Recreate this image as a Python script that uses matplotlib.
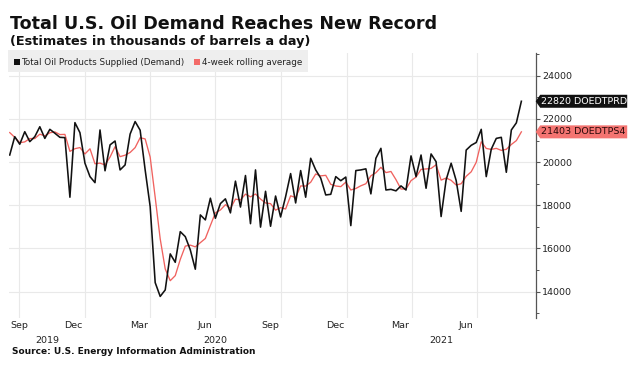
import matplotlib
matplotlib.use("Agg")
import matplotlib.pyplot as plt
import matplotlib.transforms as mtransforms
from matplotlib.patches import Rectangle, Polygon
import pandas as pd

#===========================================================================================================
#INPUTS
#===========================================================================================================
weeks = pd.date_range(end="2021-09-01", periods=103, freq="7D")

# Total Oil Products Supplied (Demand), thousand b/d
demand = [20330, 21180, 20830, 21410, 20950, 21180, 21640, 21100, 21520, 21340,
          21150, 21135, 18375, 21830, 21365, 19950, 19330, 19050, 21490, 19600,
          20800, 20980, 19640, 19870, 21300, 21880, 21480, 19640, 17940, 14420,
          13780, 14080, 15750, 15360, 16780, 16550, 15935, 15040, 17555, 17325,
          18330, 17400, 18080, 18300, 17650, 19120, 17920, 19380, 17150, 19640,
          16990, 18650, 17030, 18430, 17460, 18400, 19470, 18110, 19610, 18375,
          20180, 19640, 19260, 18480, 18510, 19330, 19140, 19310, 17060, 19610,
          19640, 19690, 18530, 20180, 20640, 18710, 18740, 18670, 18900, 18710,
          20290, 19330, 20330, 18790, 20380, 20020, 17480, 19180, 19950, 19150,
          17720, 20560, 20780, 20910, 21520, 19330, 20600, 21100, 21150, 19530,
          21490, 21820, 22820]

# 4-week rolling average
rolling4 = [21370, 21150, 20900, 20938, 21093, 21093, 21295, 21218, 21360, 21400,
            21278, 21286, 20500, 20623, 20676, 20380, 20619, 19924, 19955, 19868,
            20235, 20718, 20255, 20323, 20448, 20673, 21133, 21075, 20235, 18370,
            16445, 15055, 14508, 14743, 15493, 16110, 16156, 16076, 16270, 16464,
            17063, 17653, 17784, 18028, 17858, 18288, 18248, 18518, 18393, 18523,
            18290, 18108, 18078, 17775, 17893, 17830, 18440, 18360, 18898, 18891,
            19069, 19451, 19364, 19390, 18973, 18895, 18865, 19073, 18710, 18780,
            18905, 19000, 19368, 19510, 19760, 19515, 19568, 19190, 18755, 18755,
            19143, 19308, 19665, 19685, 19708, 19880, 19168, 19265, 19158, 18940,
            19000, 19345, 19553, 19993, 20943, 20635, 20590, 20638, 20545, 20595,
            20818, 20998, 21403]

# first Sep label is pushed right of the clipped mid-month spot
month_pos = ["2019-10-02", "2019-12-16", "2020-03-16", "2020-06-16",
             "2020-09-16", "2020-12-16", "2021-03-16", "2021-06-16"]
month_labels = ["Sep", "Dec", "Mar", "Jun", "Sep", "Dec", "Mar", "Jun"]
quarter_starts = pd.date_range("2019-10-01", "2021-07-01", freq="QS")
years = ["2019", "2020", "2021"]

title = "Total U.S. Oil Demand Reaches New Record"
subtitle = "(Estimates in thousands of barrels a day)"
source = "Source: U.S. Energy Information Administration"

black = "#111111"
red = "#f0625f"
tag_red = "#f47471"
W, H = 637, 379

#===========================================================================================================
#DRAW LINE CHART
#===========================================================================================================
fig = plt.figure(figsize=(W / 100, H / 100), dpi=100)
ax = fig.add_axes([9 / W, 61 / H, 526.7 / W, 265.3 / H])

ax.plot(weeks, rolling4, color=red, lw=0.95, zorder=3)
ax.plot(weeks, demand, color=black, lw=1.15, zorder=4)

xmin, xmax = pd.Timestamp("2019-09-17"), pd.Timestamp("2021-09-21")
ax.set_xlim(xmin, xmax)
ax.set_ylim(12780, 25070)

# y axis on the right
ax.yaxis.tick_right()
ax.set_yticks(range(14000, 24001, 2000))
ax.set_yticks(range(13000, 25001, 2000), minor=True)
ax.tick_params(axis="y", which="major", length=3, width=0.8, color="#555555",
               labelsize=6.8, labelcolor="#222222", pad=1.5)
ax.tick_params(axis="y", which="minor", length=1.8, width=0.7, color="#555555")

# x axis: grid at quarter starts, month labels mid-month
ax.set_xticks(quarter_starts, labels=[""] * len(quarter_starts))
ax.set_xticks(pd.to_datetime(month_pos), labels=month_labels, minor=True)
ax.tick_params(axis="x", which="both", length=0, labelsize=6.8,
               labelcolor="#222222", pad=2.5)

ax.grid(axis="both", which="major", color="#e9e9e9", lw=0.8)
ax.set_axisbelow(True)
for s in ["top", "left", "bottom"]:
    ax.spines[s].set_visible(False)
ax.spines["right"].set_color("#555555")
ax.spines["right"].set_linewidth(0.9)

# year row
year_x = [xmin + (pd.Timestamp("2020-01-01") - xmin) / 2,
          pd.Timestamp("2020-07-01"),
          pd.Timestamp("2021-01-01") + (xmax - pd.Timestamp("2021-01-01")) / 2]
xtrans = ax.get_xaxis_transform()
for xv, yr in zip(year_x, years):
    ax.text(xv, -0.083, yr, transform=xtrans, ha="center", va="center",
            fontsize=6.8, color="#222222")

# last-value tags on the right axis
ytrans = mtransforms.blended_transform_factory(ax.transAxes, ax.transData)
tags = [(demand[-1], "DOEDTPRD", black, "white"),
        (rolling4[-1], "DOEDTPS4", tag_red, "#2a0a0a")]
for val, code, fc, tc in tags:
    base = fig.dpi_scale_trans + mtransforms.ScaledTranslation(1, val, ytrans)
    shape = Polygon([(0, 0), (0.045, 0.065), (0.915, 0.065), (0.915, -0.065),
                     (0.045, -0.065)], closed=True, transform=base,
                    facecolor=fc, edgecolor="none", clip_on=False, zorder=6)
    ax.add_patch(shape)
    ax.text(0.05, 0.0, f"{val} {code}", transform=base, ha="left",
            va="center", fontsize=6.8, color=tc, zorder=7, clip_on=False)

# legend strip
fig.patches.append(Rectangle((8.3 / W, 1 - 71.7 / H), 300 / W, 21.7 / H,
                             transform=fig.transFigure, facecolor="#eeeeee",
                             edgecolor="none", zorder=5))
for x0, c in [(14, black), (194.3, "#f36a68")]:
    fig.patches.append(Rectangle((x0 / W, 1 - 64.5 / H), 5.7 / W, 5.5 / H,
                                 transform=fig.transFigure, facecolor=c,
                                 edgecolor="none", zorder=6))
fig.text(21 / W, 1 - 62.3 / H, "Total Oil Products Supplied (Demand)",
         fontsize=6.3, color="#222222", va="center", zorder=7)
fig.text(202 / W, 1 - 62.3 / H, "4-week rolling average",
         fontsize=6.3, color="#222222", va="center", zorder=7)

# titles and source
fig.text(10 / W, 1 - 29 / H, title, fontsize=12.6, fontweight="bold",
         color="#111111", va="baseline")
fig.text(10.5 / W, 1 - 45 / H, subtitle, fontsize=9.3, fontweight="bold",
         color="#111111", va="baseline")
fig.text(11.5 / W, 1 - 352 / H, source, fontsize=6.5, fontweight="bold",
         color="#111111", va="center")

plt.savefig("out.png", dpi=100)
